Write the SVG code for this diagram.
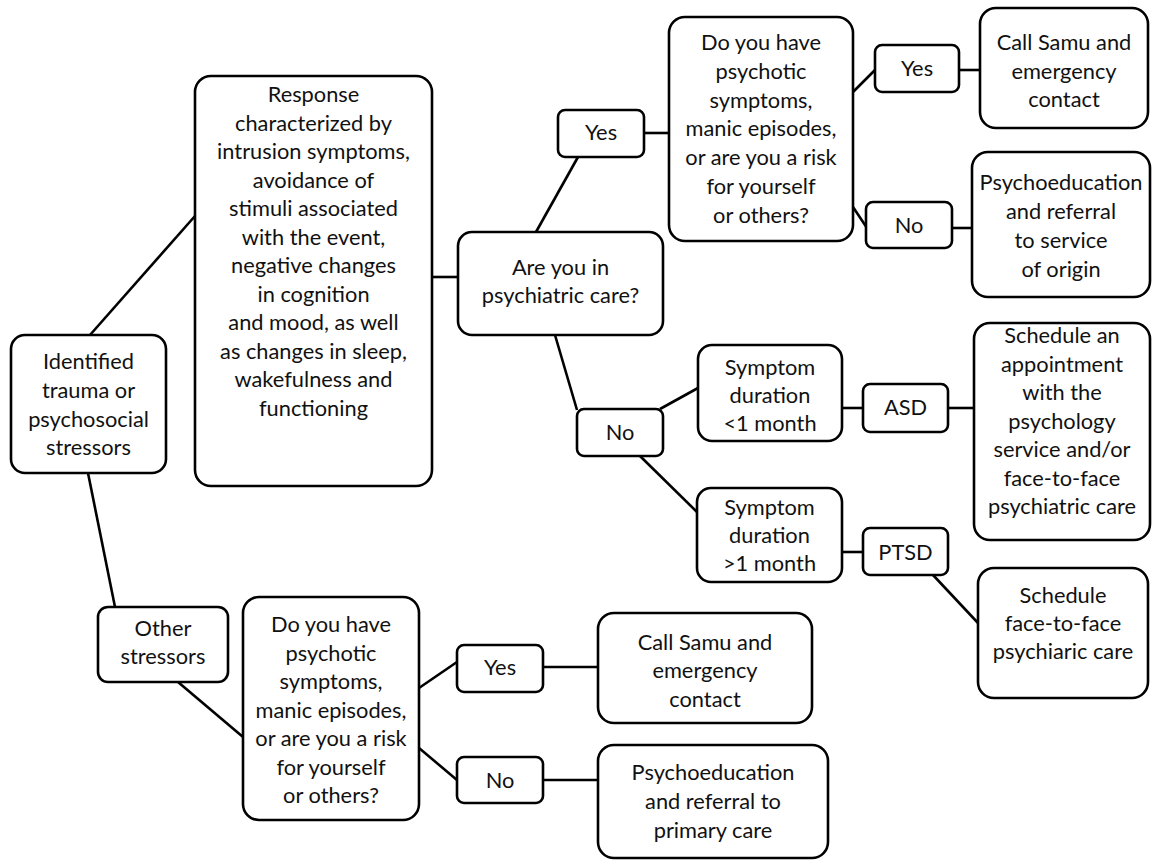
<svg xmlns="http://www.w3.org/2000/svg" width="1156" height="861" viewBox="0 0 1156 861">
<style>
.b{fill:#fff;stroke:#000;stroke-width:2.6}
.t{font-family:Lato,"Open Sans","Liberation Sans",sans-serif;font-size:21.8px;fill:#111;text-anchor:middle}
.c line{stroke:#000;stroke-width:2.6;fill:none}
</style>
<rect width="1156" height="861" fill="#fff"/>
<g class="c" id="connectors">
<line x1="90" y1="335" x2="195" y2="216"/>
<line x1="88" y1="473" x2="115" y2="607"/>
<line x1="432" y1="277" x2="458" y2="277"/>
<line x1="536" y1="232" x2="578" y2="157"/>
<line x1="644" y1="133" x2="669" y2="133"/>
<line x1="853" y1="92" x2="875" y2="70"/>
<line x1="853" y1="207" x2="867" y2="228"/>
<line x1="959" y1="70" x2="980" y2="70"/>
<line x1="952" y1="228" x2="972" y2="228"/>
<line x1="555" y1="335" x2="577" y2="410"/>
<line x1="660" y1="409" x2="698" y2="388"/>
<line x1="640" y1="456" x2="697" y2="512"/>
<line x1="842" y1="408" x2="863" y2="408"/>
<line x1="842" y1="552" x2="863" y2="552"/>
<line x1="948" y1="408" x2="974" y2="408"/>
<line x1="933" y1="575" x2="978" y2="623"/>
<line x1="178" y1="682" x2="243" y2="737"/>
<line x1="419" y1="688" x2="457" y2="662"/>
<line x1="419" y1="748" x2="457" y2="780"/>
<line x1="543" y1="667" x2="598" y2="667"/>
<line x1="543" y1="780" x2="598" y2="780"/>
</g>
<g id="n-identified"><rect class="b" x="11" y="335" width="155" height="138" rx="14"/>
<text class="t"><tspan x="88.5" y="369">Identified</tspan><tspan x="88.5" y="398">trauma or</tspan><tspan x="88.5" y="427">psychosocial</tspan><tspan x="88.5" y="455">stressors</tspan></text></g>
<g id="n-response"><rect class="b" x="195" y="76" width="237" height="410" rx="16"/>
<text class="t"><tspan x="313.5" y="102">Response</tspan><tspan x="313.5" y="130.5">characterized by</tspan><tspan x="313.5" y="159">intrusion symptoms,</tspan><tspan x="313.5" y="187.5">avoidance of</tspan><tspan x="313.5" y="216">stimuli associated</tspan><tspan x="313.5" y="244.5">with the event,</tspan><tspan x="313.5" y="273">negative changes</tspan><tspan x="313.5" y="301.5">in cognition</tspan><tspan x="313.5" y="330">and mood, as well</tspan><tspan x="313.5" y="358.5">as changes in sleep,</tspan><tspan x="313.5" y="387">wakefulness and</tspan><tspan x="313.5" y="415.5">functioning</tspan></text></g>
<g id="n-care"><rect class="b" x="458" y="232" width="205" height="103" rx="14"/>
<text class="t"><tspan x="560.5" y="275">Are you in</tspan><tspan x="560.5" y="303">psychiatric care?</tspan></text></g>
<g id="n-yes1"><rect class="b" x="558" y="110" width="86" height="47" rx="7"/>
<text class="t" x="601" y="140">Yes</text></g>
<g id="n-q1"><rect class="b" x="669" y="17" width="184" height="224" rx="16"/>
<text class="t"><tspan x="761" y="50">Do you have</tspan><tspan x="761" y="79">psychotic</tspan><tspan x="761" y="108">symptoms,</tspan><tspan x="761" y="136">manic episodes,</tspan><tspan x="761" y="165">or are you a risk</tspan><tspan x="761" y="194">for yourself</tspan><tspan x="761" y="223">or others?</tspan></text></g>
<g id="n-yes2"><rect class="b" x="875" y="45" width="84" height="47" rx="7"/>
<text class="t" x="917" y="76">Yes</text></g>
<g id="n-no2"><rect class="b" x="866" y="202" width="86" height="46" rx="7"/>
<text class="t" x="909" y="233">No</text></g>
<g id="n-samu1"><rect class="b" x="980" y="8" width="168" height="120" rx="16"/>
<text class="t"><tspan x="1064" y="50">Call Samu and</tspan><tspan x="1064" y="79">emergency</tspan><tspan x="1064" y="107">contact</tspan></text></g>
<g id="n-psyed1"><rect class="b" x="972" y="152" width="178" height="145" rx="16"/>
<text class="t"><tspan x="1061" y="190">Psychoeducation</tspan><tspan x="1061" y="219">and referral</tspan><tspan x="1061" y="248">to service</tspan><tspan x="1061" y="277">of origin</tspan></text></g>
<g id="n-no1"><rect class="b" x="577" y="409" width="86" height="47" rx="7"/>
<text class="t" x="620" y="440">No</text></g>
<g id="n-lt1"><rect class="b" x="698" y="345" width="144" height="96" rx="14"/>
<text class="t"><tspan x="770" y="375">Symptom</tspan><tspan x="770" y="403">duration</tspan><tspan x="770" y="431">&lt;1 month</tspan></text></g>
<g id="n-gt1"><rect class="b" x="697" y="488" width="145" height="94" rx="14"/>
<text class="t"><tspan x="769.5" y="515">Symptom</tspan><tspan x="769.5" y="543">duration</tspan><tspan x="769.5" y="571">&gt;1 month</tspan></text></g>
<g id="n-asd"><rect class="b" x="863" y="384" width="85" height="48" rx="7"/>
<text class="t" x="905.5" y="415">ASD</text></g>
<g id="n-ptsd"><rect class="b" x="863" y="528" width="85" height="47" rx="7"/>
<text class="t" x="905.5" y="560">PTSD</text></g>
<g id="n-appt"><rect class="b" x="974" y="323" width="176" height="217" rx="16"/>
<text class="t"><tspan x="1062" y="343">Schedule an</tspan><tspan x="1062" y="371.5">appointment</tspan><tspan x="1062" y="400">with the</tspan><tspan x="1062" y="428.5">psychology</tspan><tspan x="1062" y="457">service and/or</tspan><tspan x="1062" y="485.5">face-to-face</tspan><tspan x="1062" y="514">psychiatric care</tspan></text></g>
<g id="n-f2f"><rect class="b" x="978" y="568" width="170" height="130" rx="16"/>
<text class="t"><tspan x="1063" y="603">Schedule</tspan><tspan x="1063" y="631">face-to-face</tspan><tspan x="1063" y="659">psychiaric care</tspan></text></g>
<g id="n-other"><rect class="b" x="98" y="607" width="130" height="75" rx="10"/>
<text class="t"><tspan x="163" y="636">Other</tspan><tspan x="163" y="664">stressors</tspan></text></g>
<g id="n-q2"><rect class="b" x="243" y="597" width="176" height="223" rx="16"/>
<text class="t"><tspan x="331" y="632">Do you have</tspan><tspan x="331" y="660.5">psychotic</tspan><tspan x="331" y="689">symptoms,</tspan><tspan x="331" y="717.5">manic episodes,</tspan><tspan x="331" y="746">or are you a risk</tspan><tspan x="331" y="774.5">for yourself</tspan><tspan x="331" y="803">or others?</tspan></text></g>
<g id="n-yes3"><rect class="b" x="457" y="645" width="86" height="47" rx="7"/>
<text class="t" x="500" y="675">Yes</text></g>
<g id="n-no3"><rect class="b" x="457" y="757" width="86" height="46" rx="7"/>
<text class="t" x="500" y="788">No</text></g>
<g id="n-samu2"><rect class="b" x="598" y="613" width="214" height="110" rx="16"/>
<text class="t"><tspan x="705" y="650">Call Samu and</tspan><tspan x="705" y="678">emergency</tspan><tspan x="705" y="707">contact</tspan></text></g>
<g id="n-psyed2"><rect class="b" x="598" y="745" width="230" height="113" rx="16"/>
<text class="t"><tspan x="713" y="780">Psychoeducation</tspan><tspan x="713" y="809">and referral to</tspan><tspan x="713" y="838">primary care</tspan></text></g>
</svg>
